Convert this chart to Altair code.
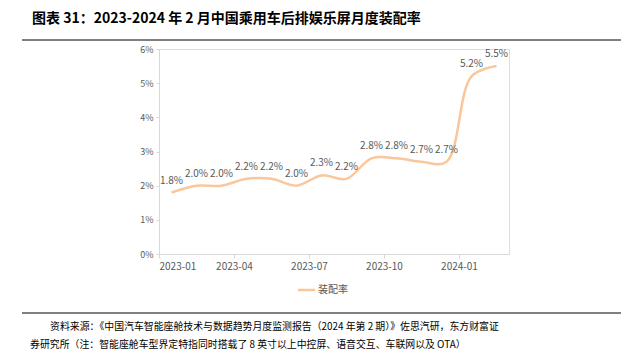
import altair as alt
import pandas as pd

months = ["2023-01", "2023-02", "2023-03", "2023-04", "2023-05", "2023-06", "2023-07",
          "2023-08", "2023-09", "2023-10", "2023-11", "2023-12", "2024-01", "2024-02"]
rates = [1.8, 2.0, 2.0, 2.2, 2.2, 2.0, 2.3, 2.2, 2.8, 2.8, 2.7, 2.7, 5.2, 5.5]
y_ticks = [0, 1, 2, 3, 4, 5, 6]
x_tick_pos = [-0.5, 2.5, 5.5, 8.5, 11.5]

title_text = "图表 31：2023-2024 年 2 月中国乘用车后排娱乐屏月度装配率"
series_name = "装配率"
source_1 = "资料来源：《中国汽车智能座舱技术与数据趋势月度监测报告（2024 年第 2 期）》佐思汽研，东方财富证"
source_2 = "券研究所（注：智能座舱车型界定特指同时搭载了 8 英寸以上中控屏、语音交互、车联网以及 OTA）"

df = pd.DataFrame({"idx": list(range(len(months))), "month": months, "rate": rates})
df["label"] = [f"{v:.1f}%" for v in rates]

LINE = "#F9C79B"
GRAY = "#595959"
AX = "#D9D9D9"
FONT = "Noto Sans CJK SC"

x_enc = alt.X("idx:Q", scale=alt.Scale(domain=[-0.5, 13.5], nice=False, zero=False),
              axis=alt.Axis(values=x_tick_pos, title=None, grid=False, labelOverlap=False,
                            labelExpr="['2023-01','2023-04','2023-07','2023-10','2024-01'][round((datum.value+0.5)/3)]",
                            domainColor=AX, tickColor=AX, tickSize=4, labelColor=GRAY,
                            labelFont=FONT, labelFontSize=10, labelPadding=3))
y_enc = alt.Y("rate:Q", scale=alt.Scale(domain=[0, 6], nice=False),
              axis=alt.Axis(values=y_ticks, tickCount=7, title=None, grid=False, labelOverlap=False,
                            labelExpr="datum.value + '%'",
                            domainColor=AX, tickColor=AX, tickSize=3, labelColor=GRAY,
                            labelFont=FONT, labelFontSize=9, labelPadding=3))

base = alt.Chart(df).encode(x=x_enc, y=y_enc)
line = base.mark_line(color=LINE, strokeWidth=2.5, interpolate="catmull-rom")
labels = base.mark_text(dy=-12, fontSize=10, color=GRAY, font=FONT).encode(text="label:N")

one = pd.DataFrame({"k": [0]})
ann = alt.Chart(one)

title = ann.mark_text(align="left", baseline="middle", fontSize=14, fontWeight="bold",
                      font=FONT, color="#000000", text=title_text).encode(
    x=alt.value(32 - 159), y=alt.value(19 - 49))
rule_top = ann.mark_rule(color="#000000", strokeWidth=1).encode(
    x=alt.value(22 - 159), x2=alt.value(621 - 159), y=alt.value(40 - 49))
rule_bot = ann.mark_rule(color="#000000", strokeWidth=1).encode(
    x=alt.value(22 - 159), x2=alt.value(621 - 159), y=alt.value(313 - 49))
leg_line = ann.mark_rule(color=LINE, strokeWidth=2.5).encode(
    x=alt.value(298 - 159), x2=alt.value(315 - 159), y=alt.value(290 - 49))
leg_text = ann.mark_text(align="left", baseline="middle", fontSize=10, font=FONT,
                         color=GRAY, text=series_name).encode(
    x=alt.value(318 - 159), y=alt.value(290 - 49))
src1 = ann.mark_text(align="left", baseline="middle", fontSize=9.9, font=FONT,
                     color="#000000", text=source_1).encode(
    x=alt.value(50 - 159), y=alt.value(327 - 49))
src2 = ann.mark_text(align="left", baseline="middle", fontSize=9.9, font=FONT,
                     color="#000000", text=source_2).encode(
    x=alt.value(30 - 159), y=alt.value(345 - 49))

chart = alt.layer(line, labels, title, rule_top, rule_bot, leg_line, leg_text, src1, src2).properties(
    width=350, height=205,
    padding={"left": 159, "top": 49, "right": 112, "bottom": 98},
    autosize=alt.AutoSizeParams(type="none"),
).configure_view(stroke=None).configure(background="#FFFFFF")

chart.save("out.html", embed_options={"renderer": "svg", "actions": False})
